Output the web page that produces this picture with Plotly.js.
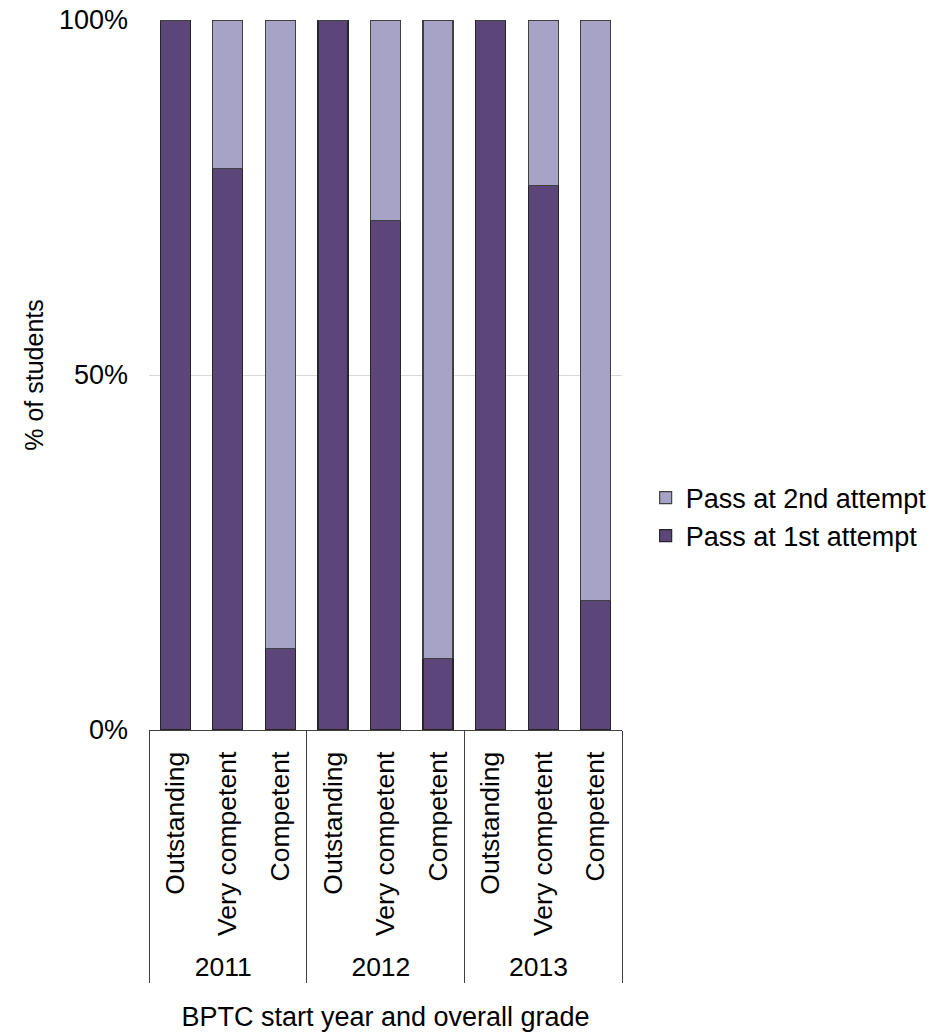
<!DOCTYPE html>
<html>
<head>
<meta charset="utf-8">
<script src="https://cdn.plot.ly/plotly-3.0.1.min.js"></script>
<style>html,body{margin:0;padding:0;background:#fff}#chart{width:941px;height:1036px}</style>
</head>
<body>
<div id="chart"></div>
<script>
var years = ["2011","2011","2011","2012","2012","2012","2013","2013","2013"];
var grades = ["Outstanding","Very competent","Competent","Outstanding","Very competent","Competent","Outstanding","Very competent","Competent"];
var firstAttempt = [1.00, 0.791, 0.115, 1.00, 0.718, 0.101, 1.00, 0.767, 0.182];
var secondAttempt = firstAttempt.map(function(v){ return 1 - v; });

var font = "Liberation Sans, Arial, sans-serif";
var traces = [
  {type:"bar", name:"Pass at 1st attempt", x:[years, grades], y:firstAttempt,
   marker:{color:"#5C4679", line:{color:"#262626", width:1.2}}},
  {type:"bar", name:"Pass at 2nd attempt", x:[years, grades], y:secondAttempt,
   marker:{color:"#A6A3C6", line:{color:"#404040", width:1.2}}}
];
var layout = {
  width:941, height:1036,
  margin:{l:149, r:319, t:20, b:306, autoexpand:false},
  barmode:"stack", bargap:0.43,
  paper_bgcolor:"#fff", plot_bgcolor:"#fff",
  font:{family:font, size:27, color:"#000"},
  showlegend:true,
  legend:{x:1.05, y:0.30, xanchor:"left", yanchor:"middle", traceorder:"reversed",
          font:{family:font, size:27, color:"#000"}, tracegroupgap:0},
  xaxis:{type:"multicategory", showline:true, linecolor:"#404040", linewidth:1.3,
         showdividers:true, dividercolor:"#404040", dividerwidth:1.3,
         tickangle:-90, ticks:"", showgrid:false, ticklabelstandoff:10,
         tickfont:{family:font, size:26.5, color:"#000"},
         title:{text:"BPTC start year and overall grade", font:{family:font, size:27, color:"#000"}, standoff:25}},
  yaxis:{range:[0,1], tickvals:[0,0.5,1], tickformat:".0%", showgrid:true, gridcolor:"#D9D9D9",
         zeroline:false, showline:false, ticks:"", ticklabelstandoff:20,
         tickfont:{family:font, size:27, color:"#000"},
         title:{text:"% of students", font:{family:font, size:25, color:"#000"}, standoff:8}}
};
Plotly.newPlot("chart", traces, layout, {displayModeBar:false});
</script>
</body>
</html>
